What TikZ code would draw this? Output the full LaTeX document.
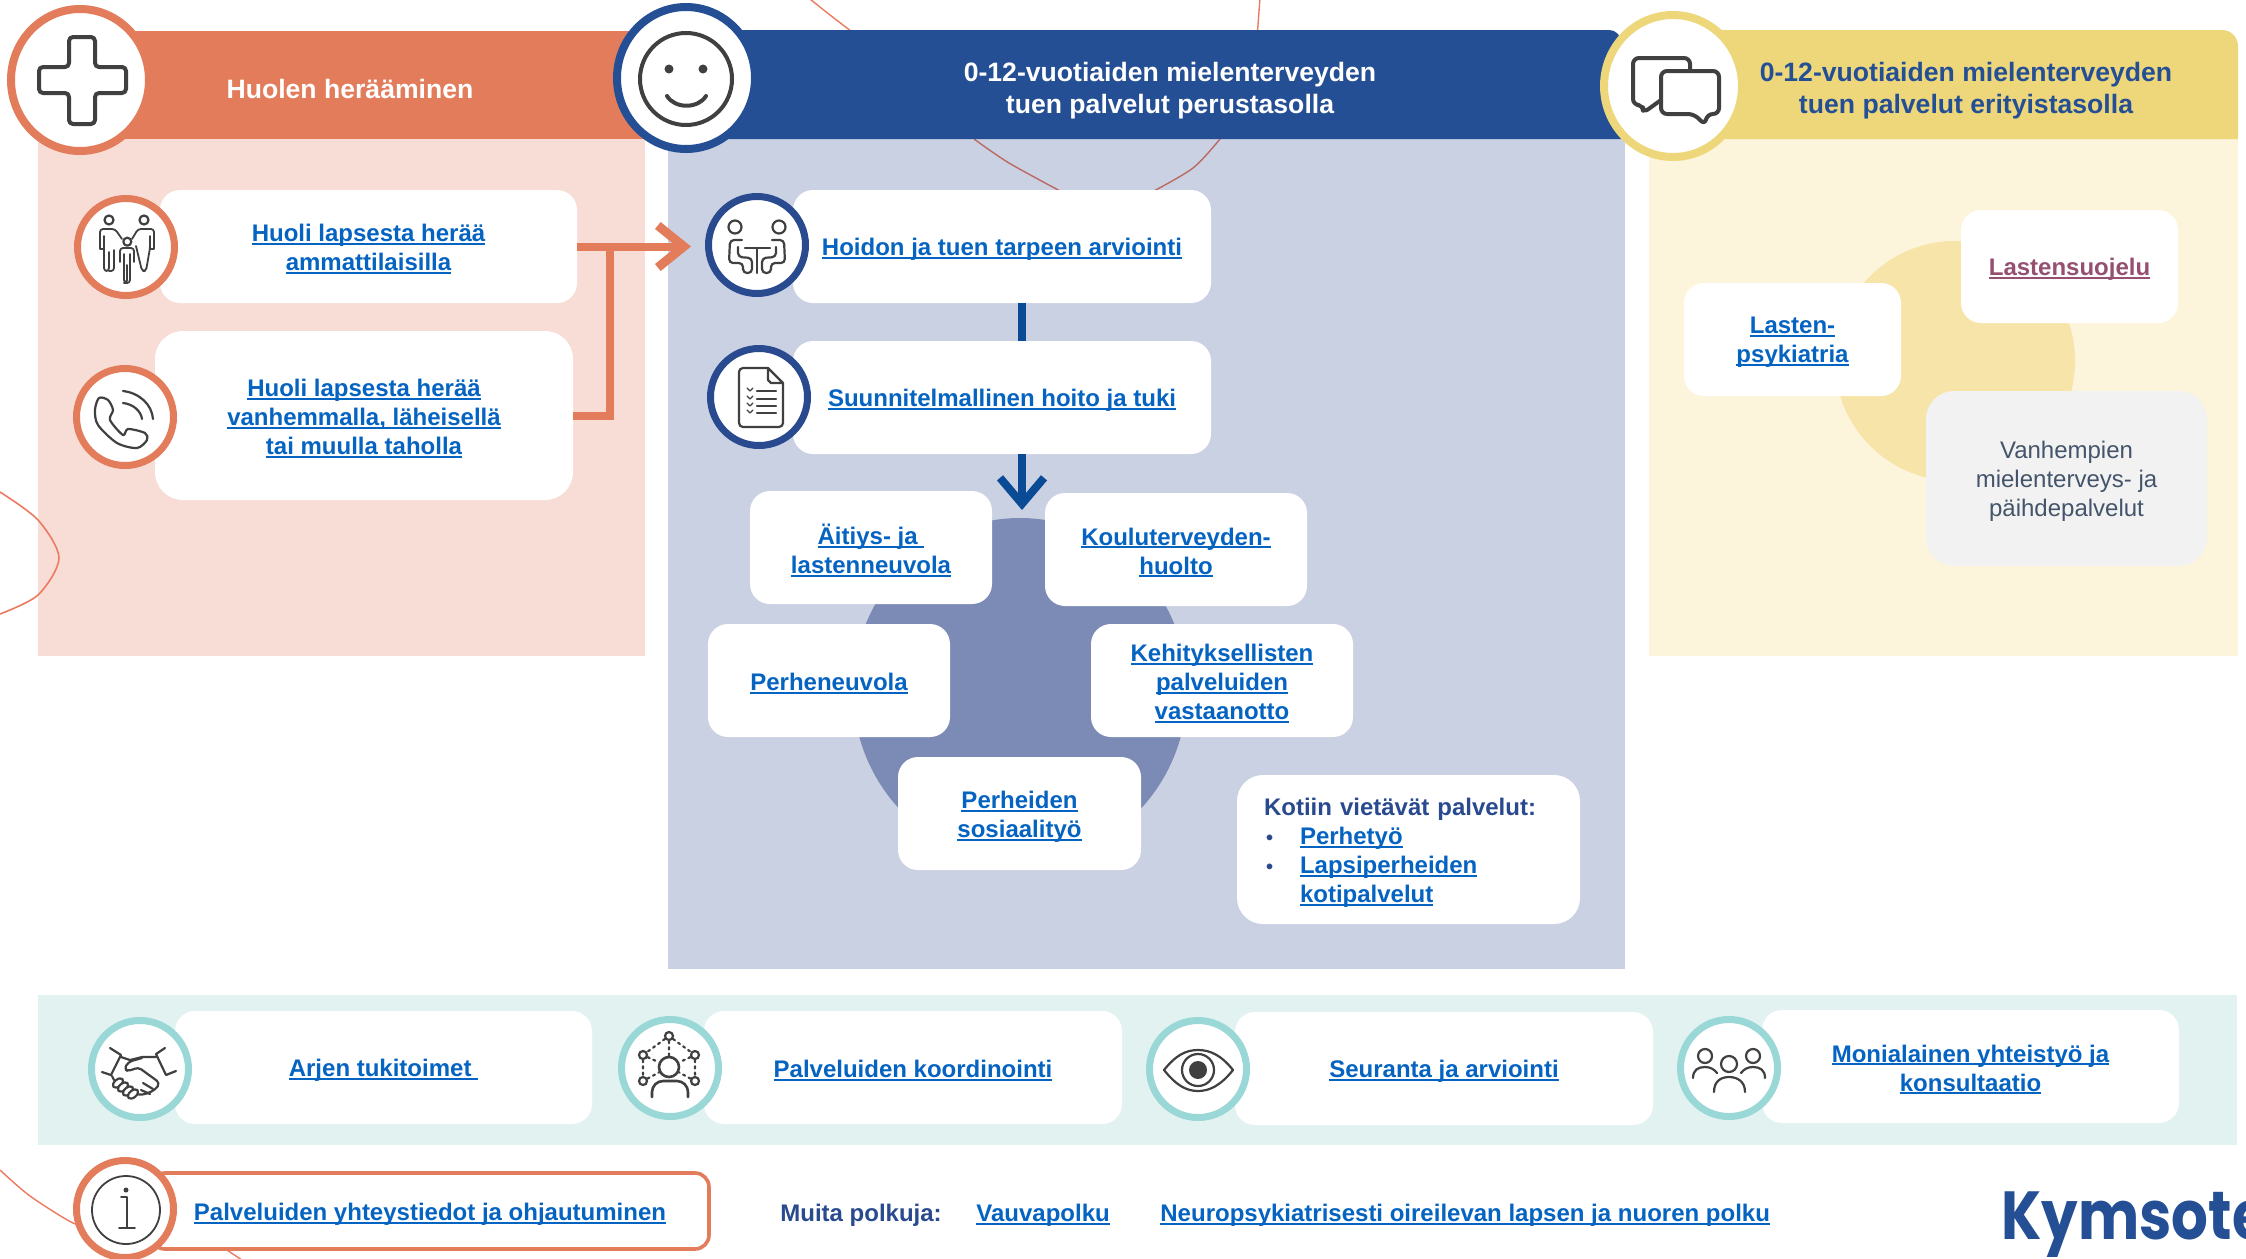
\documentclass[tikz,border=0pt]{standalone}
\usepackage{fontspec}
\setmainfont{Liberation Sans}
\newfontfamily\logofont{Poppins}[FakeStretch=0.85]
\usetikzlibrary{arrows.meta,shapes.geometric}
\definecolor{orangehead}{HTML}{E37C5B}
\definecolor{orangepale}{HTML}{F8DDD7}
\definecolor{navyhead}{HTML}{254F95}
\definecolor{navyring}{HTML}{2A4A8F}
\definecolor{navypale}{HTML}{CAD1E3}
\definecolor{navymid}{HTML}{7C8BB5}
\definecolor{navyline}{HTML}{0B4A94}
\definecolor{yellowhead}{HTML}{EDD77A}
\definecolor{yellowpale}{HTML}{FDF4DC}
\definecolor{yellowmid}{HTML}{F7E4A8}
\definecolor{tealring}{HTML}{99D8D6}
\definecolor{tealpale}{HTML}{E2F2F1}
\definecolor{linkblue}{HTML}{0563C1}
\definecolor{linkplum}{HTML}{954F72}
\definecolor{greytext}{HTML}{44546A}
\definecolor{greycard}{HTML}{F2F2F2}
\definecolor{icongrey}{HTML}{404040}
\definecolor{swirl}{HTML}{EC7A60}
\definecolor{swirldark}{HTML}{BB6A62}
\newcommand{\lnk}[1]{\leavevmode\sbox0{#1}\rlap{\rule[-1.7pt]{\wd0}{1pt}}\box0}
\newcommand{\card}[7][]{
\node[cardbox,minimum width=#5*0.5pt,minimum height=#6*0.5pt,#1] (#2) at (#3,#4) {};
\node[cardbox,#1,draw=none,fill=none] (#2text) at (#3,#4+3) {#7};}
\tikzset{
cardbox/.style={fill=white,rounded corners=10pt,inner sep=0pt,align=center,text=linkblue,
	font=\fontsize{12}{14.5}\selectfont\bfseries},
bigring/.style={ellipse,draw=#1,fill=white,line width=4pt,minimum width=69pt,minimum height=71pt,inner sep=0pt},
smallring/.style={circle,draw=#1,fill=white,line width=3.5pt,minimum size=48.5pt,inner sep=0pt},
iconline/.style={draw=icongrey,line width=1.1pt,line cap=round,line join=round},
netdot/.style={circle,draw=icongrey,fill=white,line width=1.1pt,minimum size=4pt,inner sep=0pt},
headtext/.style={font=\fontsize{13.3}{16}\selectfont\bfseries,align=center,inner sep=0pt},
}
\begin{document}
\begin{tikzpicture}[x=0.5pt,y=-0.5pt]
\useasboundingbox (0,0) rectangle (2246,1258);
\fill[white] (0,0) rectangle (2246,1258);

\fill[orangepale] (38,139) rectangle (645,656);
\fill[navypale] (668,139) rectangle (1625,969);
\fill[yellowpale] (1649,139) rectangle (2238,656);
\fill[tealpale] (38,995) rectangle (2237,1145);
\fill[navymid] (1020,690) ellipse (167 and 172);
\fill[yellowmid] (1955,361) circle (60pt);

\draw[swirl,line width=0.8pt] plot[smooth] coordinates {(0,492) (38,520) (59,558) (38,595) (0,614)};
\draw[swirl,line width=0.7pt] plot[smooth] coordinates {(805,-5) (830,15) (860,38)};
\draw[swirl,line width=0.7pt] (1260,-2) -- (1257,38);
\draw[swirl,line width=0.7pt] plot[smooth] coordinates {(0,1170) (30,1196) (73,1223) (90,1225)};
\draw[swirl,line width=0.7pt] (227,1250) -- (242,1260);
\draw[swirldark,line width=0.7pt] plot[smooth] coordinates {(974,139) (1009,163) (1062,192)};
\draw[swirldark,line width=0.7pt] plot[smooth] coordinates {(1220,139) (1193,168) (1152,192)};

\fill[orangehead] (100,31) rectangle (650,139);
\fill[navyhead] (650,139) -- (650,30) [rounded corners=6pt] -- (1621,30) [sharp corners] -- (1621,139) -- cycle;
\fill[yellowhead] (1660,139) -- (1660,30) [rounded corners=8pt] -- (2238,30) [sharp corners] -- (2238,139) -- cycle;
\node[headtext,text=white] (huolihead) at (350,89) {Huolen herääminen};
\node[headtext,text=white] (perushead) at (1170,91) {0-12-vuotiaiden mielenterveyden\\tuen palvelut perustasolla};
\node[headtext,text=navyhead] (erityishead) at (1966,91) {0-12-vuotiaiden mielenterveyden\\tuen palvelut erityistasolla};

\card{huoli1}{368.5}{246.5}{417}{113}{\lnk{Huoli lapsesta herää}\\\lnk{ammattilaisilla}}
\card[rounded corners=14pt]{huoli2}{364}{415.5}{418}{169}{\lnk{Huoli lapsesta herää}\\\lnk{vanhemmalla, läheisellä}\\\lnk{tai muulla taholla}}
\card{hoito}{1002}{246.5}{418}{113}{\lnk{Hoidon ja tuen tarpeen arviointi}}
\card{suunni}{1002}{397.5}{418}{113}{\lnk{Suunnitelmallinen hoito ja tuki}}
\card{aitiys}{871}{547.5}{242}{113}{\lnk{Äitiys- ja\ }\\\lnk{lastenneuvola}}
\card{koulu}{1176}{549.5}{262}{113}{\lnk{Kouluterveyden-}\\\lnk{huolto}}
\card{perhe}{829}{680.5}{242}{113}{\lnk{Perheneuvola}}
\card{kehitys}{1222}{680.5}{262}{113}{\lnk{Kehityksellisten}\\\lnk{palveluiden}\\\lnk{vastaanotto}}
\card{sosiaali}{1019.5}{813.5}{243}{113}{\lnk{Perheiden}\\\lnk{sosiaalityö}}
\card[rounded corners=13pt,align=left,text width=144.5pt]{kotiin}{1408.5}{849.5}{343}{149}{\textcolor{navyring}{Kotiin vietävät palvelut:}\\
\textcolor{navyring}{\makebox[18pt][l]{\hspace{1pt}\fontsize{10}{10}\selectfont •}}\lnk{Perhetyö}\\
\textcolor{navyring}{\makebox[18pt][l]{\hspace{1pt}\fontsize{10}{10}\selectfont •}}\lnk{Lapsiperheiden}\\
\hspace*{18pt}\lnk{kotipalvelut}}
\card{lasten}{1792.5}{339.5}{217}{113}{\lnk{Lasten-}\\\lnk{psykiatria}}
\card[text=linkplum]{suojelu}{2069.5}{266.5}{217}{113}{\lnk{Lastensuojelu}}
\card[fill=greycard,text=greytext,rounded corners=14pt,font=\fontsize{12}{14.5}\selectfont]{vanhemmat}{2066.5}{478.5}{281}{175}{Vanhempien\\mielenterveys- ja\\päihdepalvelut}
\card{arki}{383.5}{1067.5}{417}{113}{\lnk{Arjen tukitoimet\ }}
\card{koord}{913}{1067.5}{418}{113}{\lnk{Palveluiden koordinointi}}
\card{seuranta}{1444}{1068.5}{418}{113}{\lnk{Seuranta ja arviointi}}
\card{moni}{1970.5}{1066.5}{417}{113}{\lnk{Monialainen yhteistyö ja}\\\lnk{konsultaatio}}
\card[draw=orangehead,line width=1.8pt,rounded corners=7pt]{yhteys}{430}{1211}{558}{76}{\lnk{Palveluiden yhteystiedot ja ohjautuminen}}

\coordinate (orangejoin) at (610,246.5);
\coordinate (orangetip) at (691,246.5);
\coordinate (bluex) at (1022,510);
\draw[orangehead,line width=4pt,-{Straight Barb[length=13pt,width=21pt,line width=4.5pt]}] (huoli1.east) -- (orangetip);
\draw[orangehead,line width=4pt] (huoli2.east) -| (orangejoin);
\draw[navyline,line width=4pt] (bluex |- hoito.south) -- (bluex |- suunni.north);
\draw[navyline,line width=4pt,-{Straight Barb[length=13pt,width=22pt,line width=4pt]}] (bluex |- suunni.south) -- (bluex);

\node[bigring=orangehead] (plus) at (80,80) {};
\node[bigring=navyhead] (smile) at (686,78) {};
\node[bigring=yellowhead] (talk) at (1673,86) {};
\node[smallring=orangehead] (family) at (126,247) {};
\node[smallring=orangehead] (phone) at (125,417) {};
\node[smallring=navyring] (meet) at (757,245) {};
\node[smallring=navyring] (plan) at (759,397) {};
\node[smallring=tealring] (hands) at (140,1069) {};
\node[smallring=tealring] (net) at (670,1068) {};
\node[smallring=tealring] (eye) at (1198,1069) {};
\node[smallring=tealring] (people) at (1729,1068) {};
\node[smallring=orangehead] (info) at (125,1209) {};

\draw[iconline,line width=2pt,rounded corners=2pt] (69,37) -- (95,37) -- (95,67) -- (126,67) -- (126,93) -- (95,93) -- (95,124) -- (69,124) -- (69,93) -- (39,93) -- (39,67) -- (69,67) -- cycle;

\draw[iconline,line width=2pt] (686,79) circle (46);
\fill[icongrey] (669,69) circle (4.5) (703,69) circle (4.5);
\draw[iconline,line width=2pt] (667,96) .. controls (675,109) and (698,109) .. (706,96);

\draw[iconline,line width=2pt,rounded corners=3pt] (1661,96) -- (1661,71) -- (1719,71) -- (1719,114) -- (1707,114) -- (1705,125) -- (1694,114) -- (1661,114) -- cycle;
\draw[iconline,line width=2pt,rounded corners=3pt] (1690,71) -- (1690,58) -- (1633,58) -- (1633,105) -- (1643,105) -- (1643,113) -- (1661,100);

\draw[iconline] (109,220) circle (4.5) (144,220) circle (4.5) (127.3,241.7) circle (4);
\draw[iconline,line width=0.9pt,rounded corners=1.5pt] (100,249) -- (100,229) -- (115,229) -- (122,239) (100,249) -- (104,249) (104,236) -- (104,271) -- (109,271) -- (109,252) (109,271) -- (114,271) -- (114,250);
\draw[iconline,line width=0.9pt,rounded corners=1.5pt] (154,249) -- (154,229) -- (138,229) -- (132,239) (154,249) -- (150,249) (150,236) -- (150,248) -- (146,271) -- (142,271) -- (136,246);
\draw[iconline,line width=0.9pt,rounded corners=1.5pt] (120,262) -- (120,248) -- (134,248) -- (134,262) (124,254) -- (124,283) -- (127,283) -- (127,265) (127,283) -- (130,283) -- (130,254);

\draw[iconline] plot[smooth cycle] coordinates {(99,398) (95,410) (98,425) (117,443) (137,448) (147,440) (145,433) (128,429) (123,435) (110,420) (113,410) (108,400)};
\draw[iconline] (123,391) .. controls (140,393) and (152,405) .. (153,419);
\draw[iconline] (123,403) .. controls (133,404) and (141,411) .. (142,419);

\draw[iconline] (735,227) circle (6.5) (779,227) circle (6.5);
\draw[iconline] (745,248) -- (770,248) (757.3,248) -- (757.3,273);
\draw[iconline,rounded corners=2pt] (742,240) -- (730,240) -- (729,263) -- (743,263) -- (743,273) -- (752,273) -- (752,258) -- (738,257) -- (738,247);
\draw[iconline,rounded corners=2pt] (772,240) -- (784,240) -- (785,263) -- (771,263) -- (771,273) -- (762,273) -- (762,258) -- (776,257) -- (776,247);

\draw[iconline,rounded corners=2pt] (768,368) -- (739,368) -- (739,427) -- (783,427) -- (783,383);
\draw[iconline,line join=round] (768,368) -- (783,383) -- (771,383) -- (768,380) -- cycle;
\foreach \y in {391,399,406,413}{
	\draw[iconline,line width=0.6pt] (747,\y-3) -- (750,\y) -- (753,\y-3);
	\draw[iconline] (757,\y) -- (776,\y);
}

\draw[iconline] (110,1048) -- (121,1055) -- (111,1075) -- (102,1072);
\draw[iconline] (165,1048) -- (156,1054) -- (166,1075) -- (176,1071);
\draw[iconline] (121,1057) -- (130,1060) -- (142,1057) -- (156,1057);
\draw[iconline,rounded corners=2pt] (142,1058) -- (128,1062) -- (124,1070) -- (130,1071) -- (138,1067) -- (160,1083) -- (155,1090) -- (143,1095) -- (136,1094);
\draw[iconline] (112,1076) -- (114,1080);
\foreach \x/\y in {118/1083,123/1087,128/1091,133/1094}{
	\draw[iconline,fill=white,rotate around={40:(\x,\y)}] (\x,\y) ellipse (6 and 3.5);
}
\draw[iconline] (143,1083) -- (153,1089) (141,1090) -- (150,1094);

\node[netdot] (net1) at (669,1036) {};
\node[netdot] (net2) at (643,1055) {};
\node[netdot] (net3) at (695,1055) {};
\node[netdot] (net4) at (643,1081) {};
\node[netdot] (net5) at (695,1081) {};
\node[netdot,minimum size=10pt,line width=1.3pt] (nethead) at (669,1067) {};
\draw[iconline,dotted] (net1) -- (net2) (net1) -- (net3) (net1) -- (nethead) (net2) -- (net4) (net3) -- (net5) (net2) -- (nethead) (net3) -- (nethead) (net4) -- (nethead) (net5) -- (nethead);
\draw[iconline,line width=1.3pt] (652,1097) -- (652,1092) .. controls (652,1086) and (657,1081) .. (663,1081) -- (677,1081) .. controls (683,1081) and (688,1086) .. (688,1092) -- (688,1097);

\draw[iconline] (1164,1070) .. controls (1176,1055) and (1186,1050) .. (1198,1050) .. controls (1210,1050) and (1221,1055) .. (1233,1070) .. controls (1221,1085) and (1210,1091) .. (1198,1091) .. controls (1186,1091) and (1176,1085) .. (1164,1070) -- cycle;
\draw[iconline] (1198,1070) circle (16);
\fill[icongrey] (1198,1070) circle (9);

\draw[iconline] (1705,1056) circle (7) (1753,1056) circle (7) (1729,1064) circle (8);
\draw[iconline] (1693,1078) .. controls (1693,1070) and (1698,1067) .. (1705,1067) .. controls (1710,1067) and (1714,1069) .. (1717,1073);
\draw[iconline] (1765,1078) .. controls (1765,1070) and (1760,1067) .. (1753,1067) .. controls (1748,1067) and (1744,1069) .. (1741,1073);
\draw[iconline] (1714,1092) .. controls (1714,1082) and (1720,1077) .. (1729,1077) .. controls (1738,1077) and (1745,1082) .. (1745,1092);

\draw[iconline,line width=0.9pt] (126,1210) circle (34);
\fill[icongrey] (126,1190) circle (2.5);
\draw[iconline,line width=0.9pt] (121,1197) -- (127,1197) -- (127,1228) (119,1228) -- (135,1228);

\node[headtext,font=\fontsize{12}{14.5}\selectfont\bfseries,text=navyring,anchor=west] (muita) at (780,1215) {Muita polkuja:};
\node[cardbox,fill=none,anchor=west] (vauva) at (976,1215) {\lnk{Vauvapolku}};
\node[cardbox,fill=none,anchor=west] (neuro) at (1160,1215) {\lnk{Neuropsykiatrisesti oireilevan lapsen ja nuoren polku}};
\node[text=navyhead,anchor=base west,inner sep=0pt,font=\logofont\fontsize{34}{34}\selectfont\bfseries] (logo) at (2001,1239) {Kymsote};
\end{tikzpicture}
\end{document}
